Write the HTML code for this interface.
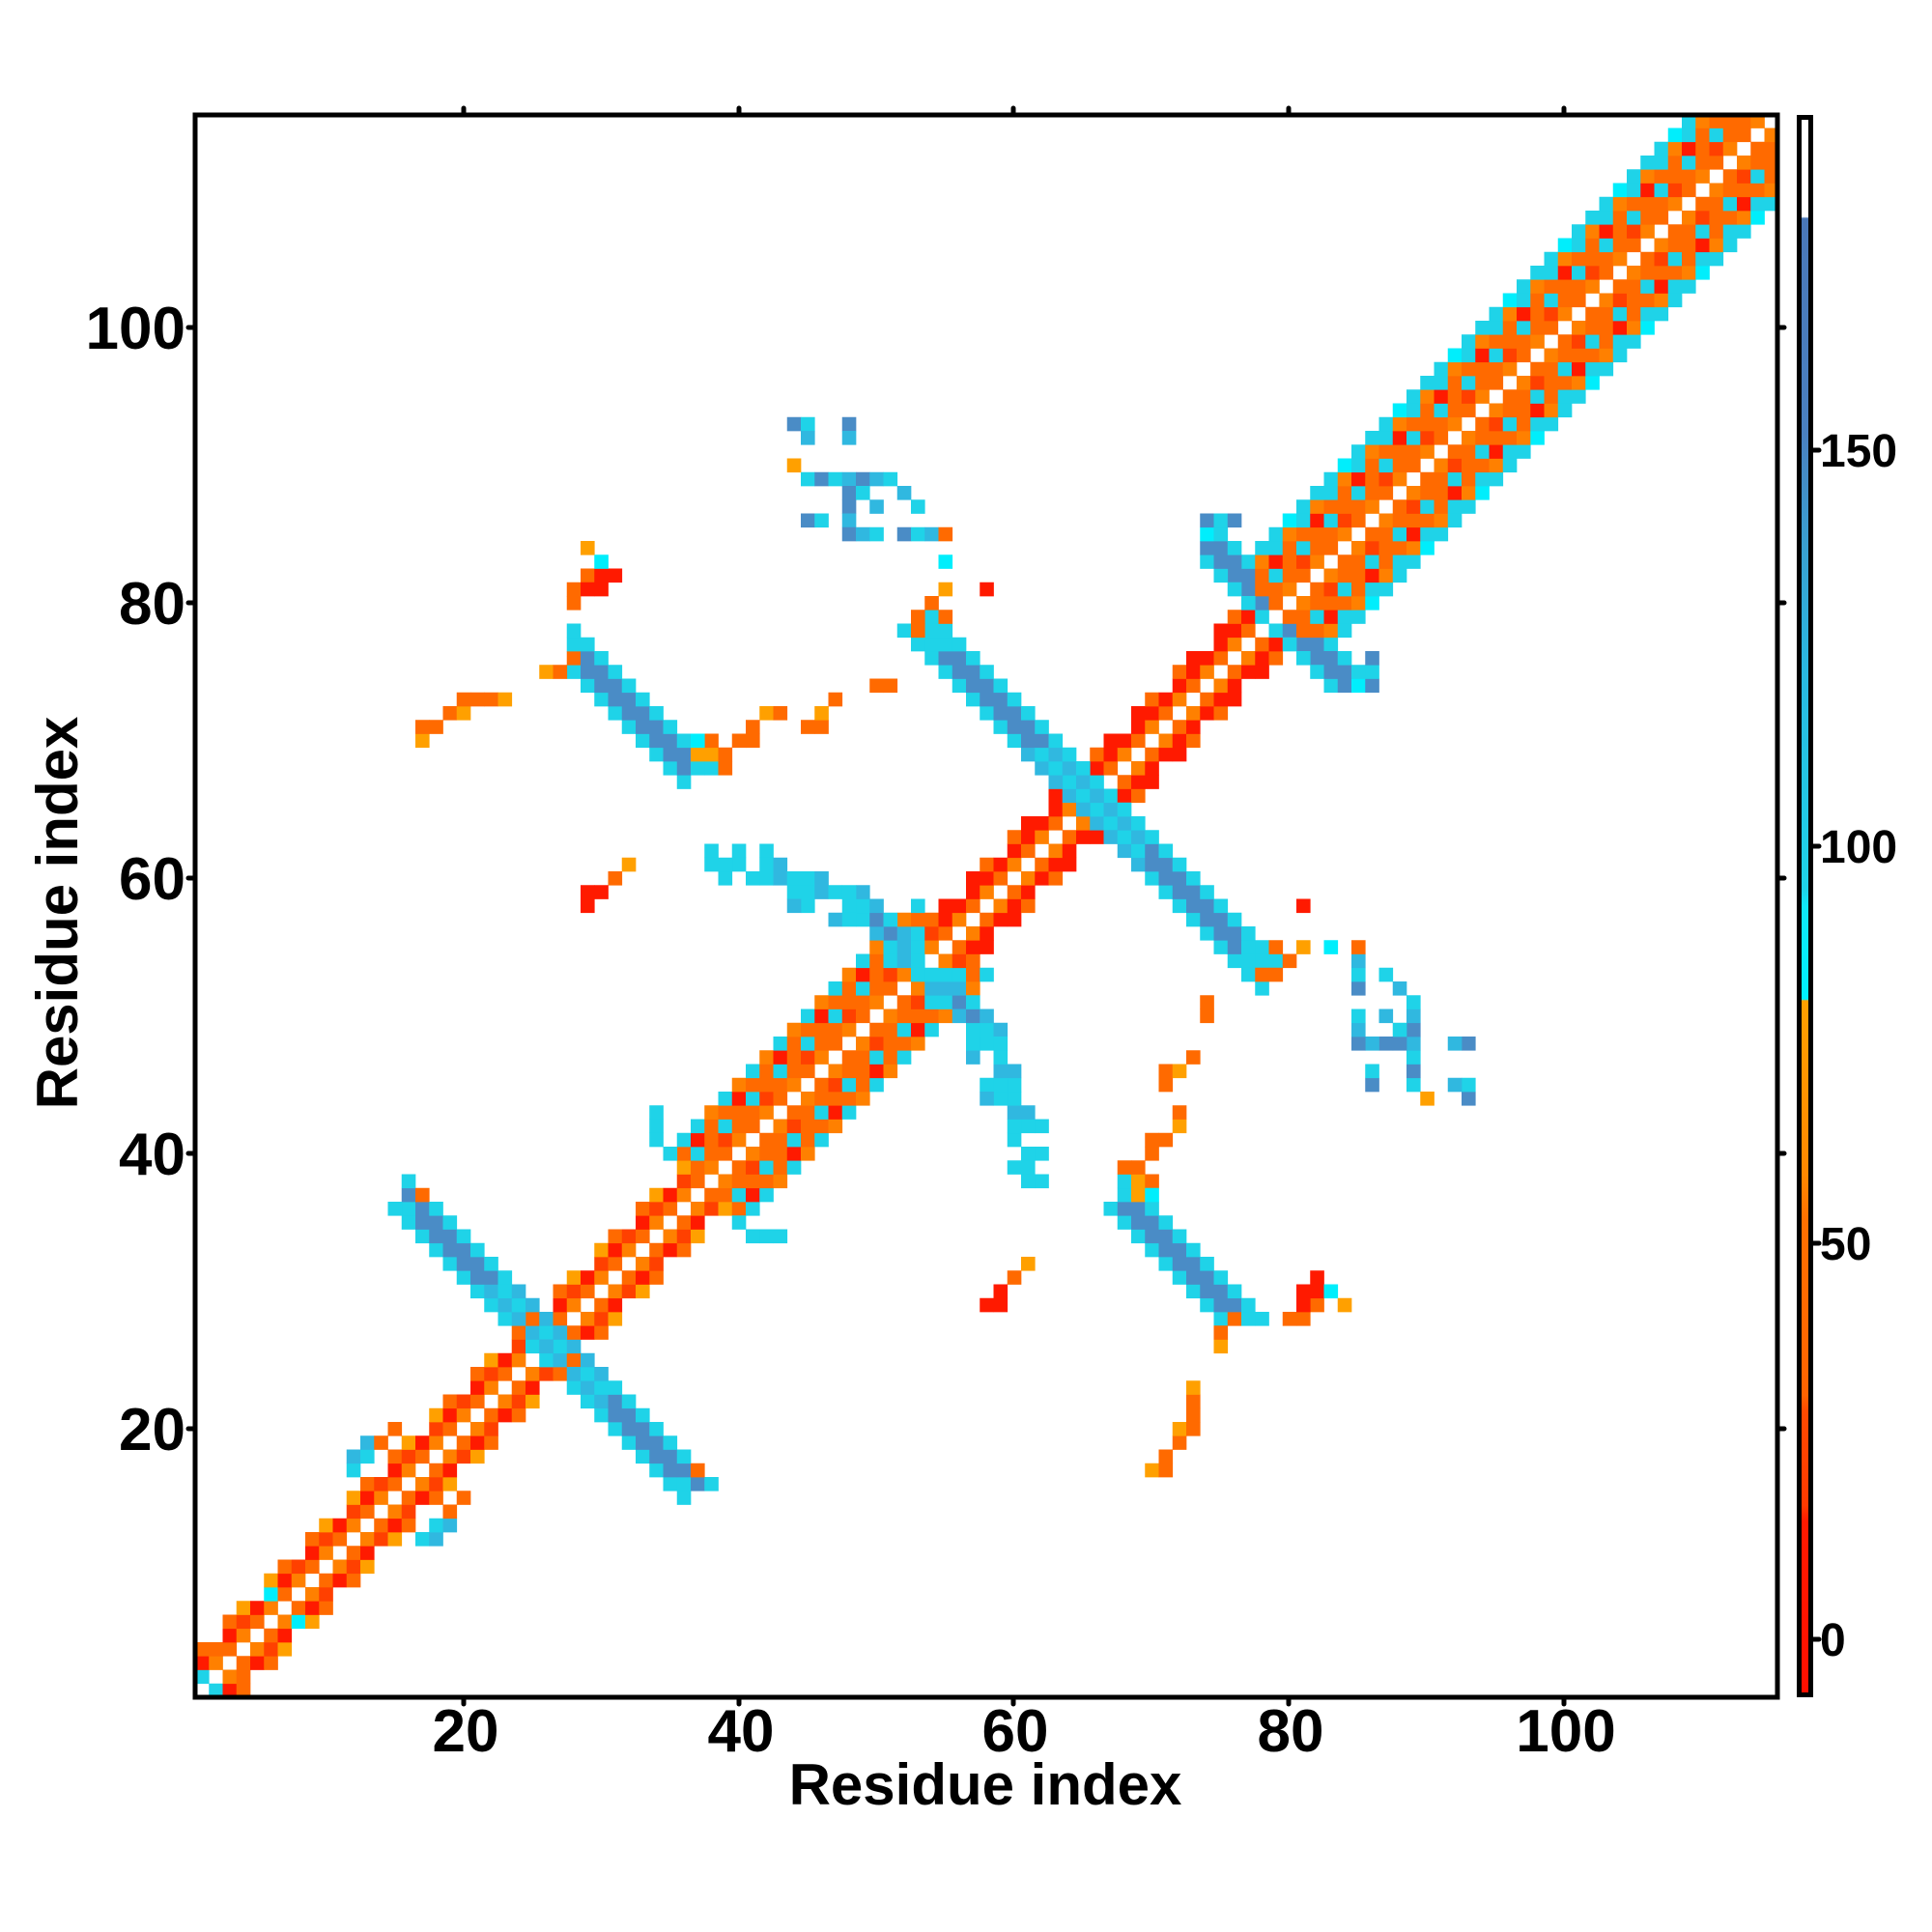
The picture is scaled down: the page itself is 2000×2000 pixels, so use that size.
<!DOCTYPE html>
<html><head><meta charset="utf-8"><style>
html,body{margin:0;padding:0;background:#fff;}
svg{display:block;}
text{font-family:"Liberation Sans",Arial,sans-serif;font-weight:bold;fill:#000;}
</style></head><body>
<svg id="s" width="2000" height="2000" viewBox="0 0 2000 2000" xmlns="http://www.w3.org/2000/svg">
<defs>
<linearGradient id="cb" x1="0" y1="1" x2="0" y2="0">
<stop offset="0" stop-color="#ff1000"/>
<stop offset="0.11" stop-color="#ff1a00"/>
<stop offset="0.12" stop-color="#ff3a00"/>
<stop offset="0.18" stop-color="#ff4a00"/>
<stop offset="0.19" stop-color="#ff6400"/>
<stop offset="0.30" stop-color="#ff7000"/>
<stop offset="0.33" stop-color="#ff8800"/>
<stop offset="0.44" stop-color="#ffa000"/>
<stop offset="0.441" stop-color="#00f0ff"/>
<stop offset="0.50" stop-color="#10e8f8"/>
<stop offset="0.51" stop-color="#1fd3e8"/>
<stop offset="0.65" stop-color="#2ab8e0"/>
<stop offset="0.73" stop-color="#3a9fd0"/>
<stop offset="0.80" stop-color="#4a80c0"/>
<stop offset="0.936" stop-color="#4a78b8"/>
<stop offset="0.937" stop-color="#ffffff"/>
<stop offset="1" stop-color="#ffffff"/>
</linearGradient>
</defs>
<g id="cells"></g>
<rect x="202" y="119" width="1638" height="1638" fill="none" stroke="#000" stroke-width="5"/>
<g stroke="#000" stroke-width="5" stroke-linecap="round">
<line x1="480" y1="1757" x2="480" y2="1764"/><line x1="765" y1="1757" x2="765" y2="1764"/><line x1="1049" y1="1757" x2="1049" y2="1764"/><line x1="1334" y1="1757" x2="1334" y2="1764"/><line x1="1619" y1="1757" x2="1619" y2="1764"/>
<line x1="480" y1="119" x2="480" y2="112"/><line x1="765" y1="119" x2="765" y2="112"/><line x1="1049" y1="119" x2="1049" y2="112"/><line x1="1334" y1="119" x2="1334" y2="112"/><line x1="1619" y1="119" x2="1619" y2="112"/>
<line x1="202" y1="1479" x2="195" y2="1479"/><line x1="202" y1="1194" x2="195" y2="1194"/><line x1="202" y1="909" x2="195" y2="909"/><line x1="202" y1="624" x2="195" y2="624"/><line x1="202" y1="339" x2="195" y2="339"/>
<line x1="1840" y1="1479" x2="1847" y2="1479"/><line x1="1840" y1="1194" x2="1847" y2="1194"/><line x1="1840" y1="909" x2="1847" y2="909"/><line x1="1840" y1="624" x2="1847" y2="624"/><line x1="1840" y1="339" x2="1847" y2="339"/>
<line x1="1877" y1="1697" x2="1883" y2="1697"/><line x1="1877" y1="1287" x2="1883" y2="1287"/><line x1="1877" y1="876" x2="1883" y2="876"/><line x1="1877" y1="466" x2="1883" y2="466"/>
</g>
<rect x="1862.5" y="121.5" width="12" height="1633" fill="url(#cb)" stroke="#000" stroke-width="5"/>
<g font-size="62" text-anchor="middle">
<text x="482" y="1813">20</text><text x="767" y="1813">40</text><text x="1051" y="1813">60</text><text x="1336" y="1813">80</text><text x="1621" y="1813">100</text>
</g>
<g font-size="62" text-anchor="end">
<text x="192" y="1501">20</text><text x="192" y="1216">40</text><text x="192" y="931">60</text><text x="192" y="646">80</text><text x="192" y="361">100</text>
</g>
<g font-size="48">
<text x="1884" y="1714">0</text><text x="1884" y="1304">50</text><text x="1884" y="893">100</text><text x="1884" y="483">150</text>
</g>
<text x="1020" y="1868" font-size="60" text-anchor="middle">Residue index</text>
<text transform="translate(80,945) rotate(-90)" font-size="60" text-anchor="middle">Residue index</text>
</svg>
<script>
(function(){
var R='#ff1a00',RO='#ff4000',O='#ff6a00',O2='#ff8000',Y='#ffa000',C='#00eefc',C2='#1fd3e8',C3='#30b8e0',B='#4a8cc6';
var m={};
function put(i,j,c){if(i<1||j<1||i>115||j>115)return;m[i+','+j]=c;}
function put2(i,j,c){put(i,j,c);put(j,i,c);}
for(var i=1;i<=115;i++){
 for(var d=1;d<=6;d++){
  var j=i+d; if(j>115)continue;
  var mid=i+d/2, helix=(mid>=38&&mid<56)||mid>=79, c=null;
  if(helix){
   var w=(mid>=38&&mid<56)?5:6;
   if(d>w)continue;
   if(d==1)c=(i%2?O:O2);
   else if(d==2)c=(i%3==0?RO:O);
   else if(d==3)c=(i%2?C2:O);
   else if(d==4)c=(i%3==1?R:O);
   else if(d==5)c=(i%2?C2:O2);
   else c=C2;
   if(mid>=79&&d==6&&i%4==0)c=C;
  } else {
   if(d>3)continue;
   if(d==3&&i%3==2)continue;
   if(d==1)c=(i%2?O:O2);
   else if(d==2)c=(mid>56&&mid<79)?R:(i%2?R:RO);
   else c=(mid>56&&mid<79)?(i%2?R:O):(i%2?O:Y);
  }
  put2(i,j,c);
 }
}
put2(1,2,C2);put2(2,4,O);put2(6,8,C);put2(12,17,C2);put2(12,18,C3);put2(13,18,C2);put2(13,19,C3);put2(14,19,O);put2(15,20,O);
put2(35,40,C2);put2(36,41,C2);put2(34,42,B);put2(34,43,C2);put2(41,34,C2);put2(42,34,C2);
function strip(x0,x1,s0,s1,core,edge){
 for(var x=x0;x<=x1;x++){for(var s=s0;s<=s1;s++){var y=s-x;var c=(s==s0||s==s1)?edge:core;if(typeof core=='function')c=core(x,s);if(c)put2(x,y,c);}}
}
strip(16,36,51,54,function(x,s){ if(x>=22&&x<=30)return (s%2?C2:C3); return (s==51||s==54)?C2:B;},C2);
put2(17,37,Y);put2(36,16,C2);put2(37,17,O);put2(24,27,O);put2(25,28,O);put2(27,28,O);
strip(28,36,103,106,function(x,s){ if(x==28)return C2; return (s==103||s==106)?C2:B;},C2);
put2(37,68,C2);put2(37,69,Y);put2(38,68,C2);put2(38,69,Y);put2(38,70,O);put2(39,68,O);put2(39,69,O);put2(37,70,C);put2(28,77,C2);put2(28,78,C2);
strip(54,78,130,133,function(x,s){ if(x>=61&&x<=69)return (s%2?C2:C3); if(x<=55||x>=77)return C2; return (s==130||s==133)?C2:B;},C2);
put2(55,79,O);put2(54,80,O);put2(55,81,Y);put2(55,83,C);put2(53,78,O);put2(78,53,O);put2(79,53,O);
strip(49,53,106,108,function(x,s){ if(x>=50&&x<=51&&s==107)return B; return (x%2?C2:C3);},C2);
strip(74,78,157,160,function(x,s){ if(x==78&&s>158)return null; return (s==157||s==160)?C2:B;},C2);
put2(86,74,B);put2(86,75,B);put2(85,74,C);put2(76,86,B);put2(75,86,C2);
var F1=[[38,62],[40,62],[38,61],[40,61],[42,62],[42,61],[43,61],[41,60],[42,60],[43,60],[44,60],[45,60],[46,60],[44,59],[45,59],[46,59],[47,59],[48,59],[49,59],[48,58],[49,58],[47,57],[48,57],[45,58],[44,58]];
F1.forEach(function(p,k){put2(p[0],p[1],k%3==0?C3:C2);});
var F2=[[44,93],[45,93],[45,92],[48,93],[48,92],[45,89],[46,89],[47,89],[48,89],[49,89],[50,89],[51,89],[48,88],[49,88],[52,88],[48,87],[50,87],[53,87],[45,86],[46,86],[48,86],[48,85],[49,85],[50,85],[52,85],[53,85],[54,85]];
F2.forEach(function(p,k){put2(p[0],p[1],k%3==0?B:(k%2?C2:C3));});
put2(44,90,Y);put2(55,85,O);put2(60,39,C2);put2(61,39,C2);put2(62,38,C2);put2(61,40,C2);
var OB=[[17,70],[17,71],[18,71],[19,72],[20,72],[20,73],[21,73],[22,73],[23,73],[40,70],[41,70],[41,71],[42,72],[43,72],[45,71],[46,71],[46,72],[47,73],[50,74],[51,74],[29,84],[28,80],[28,81],[29,82],[26,75],[27,75],[28,76],[31,60],[32,61]];
OB.forEach(function(p,k){put2(p[0],p[1],k%4==0?Y:O);});
var RB=[[30,81],[30,82],[31,82],[29,81],[29,58],[29,59],[30,59],[58,81]];
RB.forEach(function(p){put2(p[0],p[1],R);});
put2(30,83,C);
var g=document.getElementById('cells'),h='',cs=14.25;
for(var k in m){var a=k.split(','),x=+a[0],y=+a[1];
 h+='<rect x="'+(202+(x-1)*cs).toFixed(2)+'" y="'+(1757-y*cs).toFixed(2)+'" width="14.6" height="14.6" fill="'+m[k]+'"/>';}
g.innerHTML=h;
})();
</script>
</body></html>
